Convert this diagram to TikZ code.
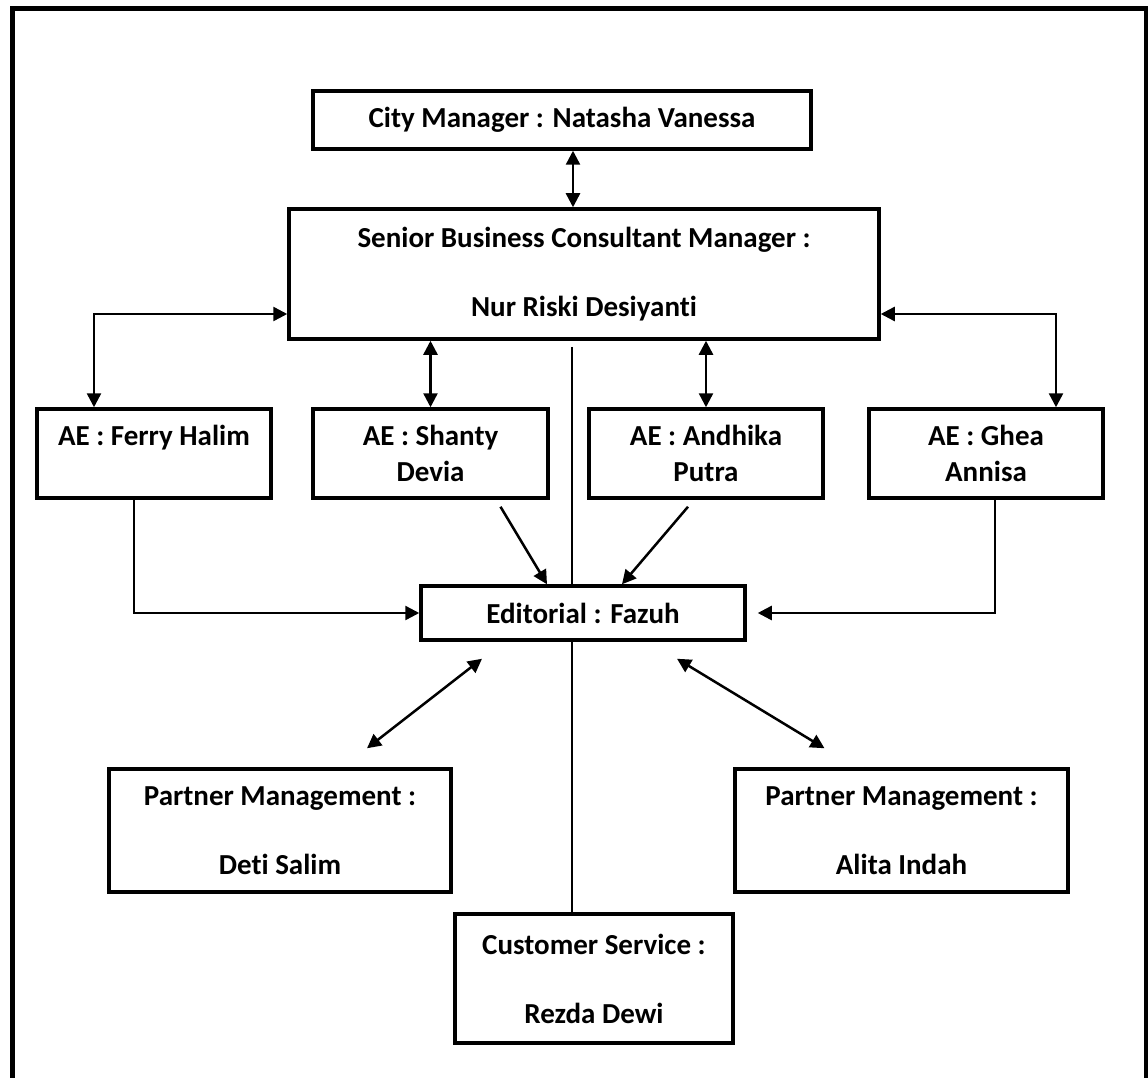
\documentclass[tikz,border=0pt]{standalone}
\usepackage{fontspec}
\setmainfont[Ligatures=NoCommon]{Carlito}
\usetikzlibrary{arrows.meta,positioning,calc}

\begin{document}
\begin{tikzpicture}[x=1pt,y=-1pt,
  every node/.style={font=\fontsize{29pt}{36pt}\selectfont\bfseries},
  orgbox/.style={draw,line width=3.5pt,align=center,inner sep=0pt},
  link/.style={line width=2.5pt,-{Triangle[length=14pt,width=14pt]}},
  twoway/.style={line width=2.5pt,{Triangle[length=14pt,width=14pt]}-{Triangle[length=14pt,width=14pt]}},
  spine/.style={line width=1.5pt}]
  \useasboundingbox (0,0) rectangle (1148,1078);
  \draw[line width=5pt] (12,8.5) rectangle (1146,1080);
  % boxes
  \node[orgbox,minimum width=498pt,minimum height=58pt] (cm) at (562,120) {City Manager : Natasha Vanessa};
  \node[orgbox,minimum width=590pt,minimum height=130pt] (sbcm) at (584,274) {Senior Business Consultant Manager :\\[33pt]Nur Riski Desiyanti};
  \node[orgbox,minimum width=234pt,minimum height=89pt] (ferry) at (154,453.5) {AE : Ferry Halim\\\mbox{}};
  \node[orgbox,minimum width=235pt,minimum height=89pt] (shanty) at (430.5,453.5) {AE : Shanty\\Devia};
  \node[orgbox,minimum width=234pt,minimum height=89pt] (andhika) at (706,453.5) {AE : Andhika\\Putra};
  \node[orgbox,minimum width=234pt,minimum height=89pt] (ghea) at (986,453.5) {AE : Ghea\\Annisa};
  \node[orgbox,minimum width=324pt,minimum height=54pt] (edit) at (583,613) {Editorial : Fazuh};
  \node[orgbox,minimum width=342pt,minimum height=123pt] (deti) at (280,830.5) {Partner Management :\\[33pt]Deti Salim};
  \node[orgbox,minimum width=333pt,minimum height=123pt] (alita) at (901.5,830.5) {Partner Management :\\[33pt]Alita Indah};
  \node[orgbox,minimum width=278pt,minimum height=129pt] (cs) at (594,978.5) {Customer Service :\\[33pt]Rezda Dewi};
  % connectors
  \draw[twoway] ([xshift=11pt]cm.south) -- ([xshift=11pt]cm.south |- sbcm.north);
  \draw[twoway] ([yshift=-40pt]sbcm.west) -| ([xshift=-60pt]ferry.north);
  \draw[twoway] (shanty.north |- sbcm.south) -- (shanty.north);
  \draw[twoway] (andhika.north |- sbcm.south) -- (andhika.north);
  \draw[twoway] ([yshift=-40pt]sbcm.east) -| ([xshift=70pt]ghea.north);
  \coordinate (top) at ([xshift=-12pt,yshift=-6pt]sbcm.south);
  \draw[spine] (top) -- (top |- edit.north);
  \draw[spine] (top |- edit.south) -- (top |- cs.north);
  \draw[link] ([xshift=-20pt]ferry.south) |- (edit.west);
  \draw[link,shorten >=11pt] ([xshift=9pt]ghea.south) |- (edit.east);
  \draw[link] ([xshift=70pt,yshift=-7pt]shanty.south) -- ([xshift=-36pt]edit.north);
  \draw[link] ([xshift=-18pt,yshift=-7pt]andhika.south) -- ([xshift=39pt]edit.north);
  \draw[twoway] ([xshift=-101pt,yshift=-17pt]edit.south) -- ([xshift=87pt,yshift=19pt]deti.north);
  \draw[twoway] ([xshift=94pt,yshift=-17pt]edit.south) -- ([xshift=-77pt,yshift=19pt]alita.north);
\end{tikzpicture}
\end{document}
